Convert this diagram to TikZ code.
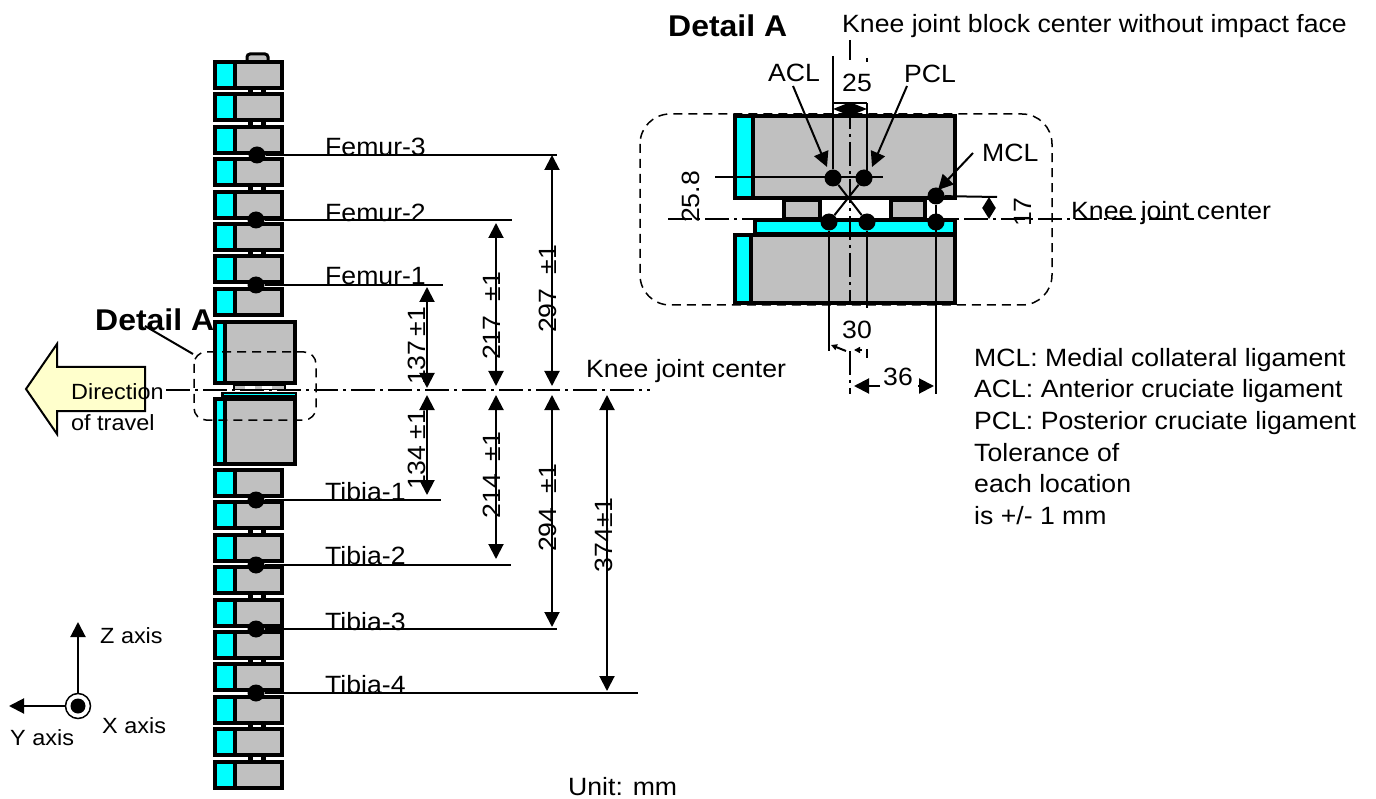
\documentclass[tikz,border=0pt]{standalone}
\usepackage{fontspec}
\setmainfont{Liberation Sans}[FakeStretch=1.065]
\usetikzlibrary{arrows.meta}

\definecolor{blockgrey}{RGB}{192,192,192}
\definecolor{arrowyellow}{RGB}{255,255,204}
\definecolor{blockcyan}{RGB}{0,255,255}

\tikzset{
    lbl/.style={inner sep=0pt, font=\fontsize{25}{30}\selectfont},
    axislbl/.style={inner sep=0pt, font=\fontsize{22}{26}\selectfont},
    titlelbl/.style={inner sep=0pt, font=\fontsize{30}{34}\selectfont\bfseries},
    blockline/.style={draw=black, line width=4pt},
    dashbox/.style={draw=black, line width=1.5pt, dash pattern=on 9pt off 6pt, rounded corners=30pt},
    centerline/.style={draw=black, line width=2pt, dash pattern=on 24pt off 5pt on 3pt off 5pt},
    thin line/.style={draw=black, line width=2pt},
    dimarrow/.style={thin line, {Triangle[length=15pt,width=15pt]}-{Triangle[length=15pt,width=15pt]}},
    leader/.style={thin line, -{Triangle[length=15pt,width=15pt]}},
    dot/.style={circle, fill=black, inner sep=0pt, minimum size=17pt}
}

\begin{document}
\begin{tikzpicture}[x=1pt, y=-1pt]
    \useasboundingbox (0, 0) rectangle (1376, 799);

    % travel arrow and the text under the blocks
    \draw[line width=2pt, fill=arrowyellow] (26, 389) -- (57, 344) -- (57, 367) -- (145, 367) -- (145, 411) -- (57, 411) -- (57, 434) -- cycle;
    \node[titlelbl, anchor=west] (detailleft) at (95, 320) {Detail A};

    % small blocks
    \foreach \y in {60, 92.4, 124.8, 157.2, 189.6, 222, 254.4, 286.8, 468, 500.4, 532.8, 565.2, 597.6, 630, 662.4, 694.8, 727.2, 759.6} {
        \draw[blockline, fill=blockgrey] (235, \y+2) rectangle (282, \y+28);
        \draw[blockline, fill=blockcyan] (215, \y+2) rectangle (235, \y+28);
    }
    \foreach \y in {90, 122.4, 187.2, 252, 530.4, 595.2, 660, 724.8, 757.2} {
        \fill (248, \y) rectangle (253, \y+3);
        \fill (261, \y) rectangle (266, \y+3);
    }
    \draw[line width=3pt, fill=blockgrey, rounded corners=3pt] (247, 60) -- (247, 54) -- (268, 54) -- (268, 60);

    % big blocks at the knee
    \draw[blockline, fill=blockgrey] (225, 322) rectangle (295, 383);
    \draw[blockline, fill=blockcyan] (215, 322) rectangle (225, 383);
    \fill (233, 385) rectangle (286, 390);
    \fill[white] (245, 386) rectangle (272, 389);
    \fill[blockgrey] (235, 386) rectangle (245, 389);
    \fill[blockgrey] (272, 386) rectangle (284, 389);
    \fill[blockgrey] (255, 386) rectangle (262, 389);
    \fill (221, 392) rectangle (297, 397);
    \fill[blockcyan] (224, 394) rectangle (295, 395.5);
    \draw[blockline, fill=blockgrey] (225, 399) rectangle (295, 464);
    \draw[blockline, fill=blockcyan] (215, 399) rectangle (225, 464);

    \node[dot] (f3) at (257, 155) {};
    \node[dot] (f2) at (256, 220) {};
    \node[dot] (f1) at (256, 285) {};
    \node[dot] (t1) at (256, 500) {};
    \node[dot] (t2) at (256, 565) {};
    \node[dot] (t3) at (256, 629) {};
    \node[dot] (t4) at (256, 693) {};

    \coordinate (f3end) at (557, 155);
    \coordinate (f2end) at (512, 220);
    \coordinate (f1end) at (443, 285);
    \coordinate (t1end) at (441, 500);
    \coordinate (t2end) at (511, 565);
    \coordinate (t3end) at (557, 629);
    \coordinate (t4end) at (638, 693);
    \draw[thin line] (f3) -- (f3end);
    \draw[thin line] (f2) -- (f2end);
    \draw[thin line] (f1) -- (f1end);
    \draw[thin line] (t1) -- (t1end);
    \draw[thin line] (t2) -- (t2end);
    \draw[thin line] (t3) -- (t3end);
    \draw[thin line] (t4) -- (t4end);

    \node[lbl, anchor=west] (f3lbl) at (325, 147) {Femur-3};
    \node[lbl, anchor=west] (f2lbl) at (325, 213) {Femur-2};
    \node[lbl, anchor=west] (f1lbl) at (325, 276) {Femur-1};
    \node[lbl, anchor=west] (t1lbl) at (325, 492) {Tibia-1};
    \node[lbl, anchor=west] (t2lbl) at (325, 556) {Tibia-2};
    \node[lbl, anchor=west] (t3lbl) at (325, 622) {Tibia-3};
    \node[lbl, anchor=west] (t4lbl) at (325, 685) {Tibia-4};

    % knee center line and its detail frame
    \coordinate (kneeleft) at (166, 390.5);
    \coordinate (kneeright) at (650, 390.5);
    \draw[centerline] (kneeleft) -- (kneeright);
    \draw[dashbox, rounded corners=12pt] (194, 352) rectangle (316, 420);
    \coordinate (frametop) at (193, 354);
    \coordinate (detailtail) at (145, 326);
    \draw[thin line] (detailtail) -- (frametop);
    \node[axislbl, anchor=west] (dirlbl) at (71, 392) {Direction};
    \node[axislbl, anchor=west] (travellbl) at (71, 423) {of travel};
    \node[lbl, anchor=west] (kneelbl) at (586, 371) {Knee joint center};

    % dimensions of the left view
    \coordinate (a1) at (427, 287);
    \coordinate (a2) at (427, 388);
    \coordinate (a3) at (427, 395);
    \coordinate (a4) at (427, 495);
    \coordinate (b1) at (496, 223);
    \coordinate (b2) at (496, 386);
    \coordinate (b3) at (496, 395);
    \coordinate (b4) at (496, 559);
    \coordinate (c1) at (552, 155);
    \coordinate (c2) at (552, 386);
    \coordinate (c3) at (552, 395);
    \coordinate (c4) at (552, 627);
    \coordinate (d1) at (607, 395);
    \coordinate (d2) at (607, 691);
    \draw[dimarrow] (a1) -- (a2);
    \draw[dimarrow] (a3) -- (a4);
    \draw[dimarrow] (b1) -- (b2);
    \draw[dimarrow] (b3) -- (b4);
    \draw[dimarrow] (c1) -- (c2);
    \draw[dimarrow] (c3) -- (c4);
    \draw[dimarrow] (d1) -- (d2);
    \node[lbl, rotate=90] (dima1) at (417, 346) {137\hspace{4pt}±1};
    \node[lbl, rotate=90] (dima2) at (417, 450) {134\hspace{6pt}±1};
    \node[lbl, rotate=90] (dimb1) at (492, 316) {217\hspace{14pt}±1};
    \node[lbl, rotate=90] (dimb2) at (492, 475) {214\hspace{13pt}±1};
    \node[lbl, rotate=90] (dimc1) at (548, 289) {297\hspace{14pt}±1};
    \node[lbl, rotate=90] (dimc2) at (548, 508) {294\hspace{14pt}±1};
    \node[lbl, rotate=90] (dimd1) at (604, 535) {374\hspace{1pt}±1};

    % axes
    \node[circle, draw=black, line width=1.5pt, fill=white, inner sep=0pt, minimum size=25pt] (xaxis) at (78, 706) {};
    \node[dot, minimum size=15pt] (xdot) at (78, 706) {};
    \coordinate (ztip) at (78, 622);
    \coordinate (ytip) at (9, 706);
    \draw[leader] (xaxis) -- (ztip);
    \draw[leader] (xaxis) -- (ytip);
    \node[axislbl, anchor=west] (zlbl) at (100, 636) {Z axis};
    \node[axislbl, anchor=west] (xlbl) at (102, 726) {X axis};
    \node[axislbl, anchor=west] (ylbl) at (10, 738) {Y axis};
    \node[lbl, anchor=west] (unitlbl) at (568, 787) {Unit: mm};

    % detail A
    \node[titlelbl, anchor=west] (detailtop) at (668, 26) {Detail A};
    \node[lbl, anchor=west] (blocklbl) at (842, 26) {Knee joint block center without impact face};
    \draw[blockline, fill=blockgrey] (753, 116) rectangle (955, 198);
    \draw[blockline, fill=blockcyan] (735, 116) rectangle (753, 198);
    \draw[blockline, fill=blockgrey] (784, 200) rectangle (820, 219);
    \draw[blockline, fill=blockgrey] (891, 200) rectangle (925, 219);
    \draw[blockline, fill=blockcyan] (755, 220) rectangle (955, 234);
    \draw[blockline, fill=blockgrey] (751, 235) rectangle (955, 303);
    \draw[blockline, fill=blockcyan] (735, 235) rectangle (751, 303);
    \draw[dashbox] (640, 114) rectangle (1052, 305);

    \coordinate (blocktop) at (850, 40);
    \coordinate (blocktopend) at (850, 60);
    \coordinate (blockmid) at (850, 105);
    \coordinate (blockmidend) at (850, 305);
    \coordinate (blocklow) at (850, 351);
    \coordinate (blockbot) at (850, 394);
    \coordinate (jointleft) at (668, 219);
    \coordinate (jointright) at (1194, 219);
    \draw[centerline] (blocktop) -- (blocktopend);
    \draw[centerline] (blockmid) -- (blockmidend);
    \draw[centerline] (blocklow) -- (blockbot);
    \draw[centerline] (jointleft) -- (jointright);

    \node[dot] (aclup) at (833, 178) {};
    \node[dot] (pclup) at (864, 178) {};
    \node[dot] (mclup) at (936, 196) {};
    \node[dot] (acllow) at (829, 222) {};
    \node[dot] (pcllow) at (867, 222) {};
    \node[dot] (mcllow) at (936, 222) {};
    \draw[thin line] (aclup) -- (pcllow);
    \draw[thin line] (pclup) -- (acllow);

    \coordinate (aclline) at (833, 56);
    \coordinate (pclline) at (867, 103);
    \coordinate (aclbot) at (829, 351);
    \coordinate (pclbot) at (867, 308);
    \coordinate (mclbot) at (936, 394);
    \coordinate (hleft) at (715, 177);
    \coordinate (hright) at (883, 177);
    \coordinate (mclright) at (997, 197);
    \draw[thin line] (aclline) -- (aclup);
    \draw[thin line] (pclline) -- (pclline |- pclup);
    \draw[thin line] (acllow) -- (aclbot);
    \draw[thin line] (pcllow) -- (pclbot);
    \draw[thin line] (mclup) -- (mclbot);
    \draw[thin line] (hleft) -- (hright);
    \draw[thin line] (mclup) -- (mclright);
    \coordinate (pclstub1) at (867, 58);
    \coordinate (pclstub2) at (867, 62);
    \coordinate (pclstub3) at (867, 349);
    \coordinate (pclstub4) at (867, 358);
    \draw[thin line] (pclstub1) -- (pclstub2);
    \draw[thin line] (pclstub3) -- (pclstub4);

    % dimensions of detail A
    \coordinate (d25a) at (833, 109);
    \coordinate (d25b) at (867, 109);
    \coordinate (d25top) at (833, 103);
    \coordinate (d25topb) at (867, 103);
    \coordinate (d30a) at (831, 345);
    \coordinate (d30tail) at (846, 351);
    \coordinate (d30b) at (854, 350);
    \coordinate (d30tailb) at (862, 350);
    \coordinate (d36a) at (854, 386);
    \coordinate (d36tail) at (880, 386);
    \coordinate (d36b) at (934, 386);
    \coordinate (d36tailb) at (918, 386);
    \coordinate (d17a) at (989, 197);
    \coordinate (d17b) at (989, 219);
    \draw[thin line] (d25top) -- (d25topb);
    \draw[thin line, {Triangle[length=17pt,width=13pt]}-{Triangle[length=17pt,width=13pt]}] (d25a) -- (d25b);
    \draw[thin line, -{Triangle[length=6pt,width=6pt]}] (d30tail) -- (d30a);
    \draw[thin line, -{Triangle[length=6pt,width=6pt]}] (d30tailb) -- (d30b);
    \draw[leader] (d36tail) -- (d36a);
    \draw[leader] (d36tailb) -- (d36b);
    \draw[thin line, {Triangle[length=11pt,width=13pt]}-{Triangle[length=11pt,width=13pt]}] (d17a) -- (d17b);
    \node[lbl] (lbl36) at (898, 377) {36};
    \node[lbl] (lbl25) at (857, 83) {25};
    \node[lbl] (lbl30) at (857, 330) {30};
    \node[lbl, rotate=90] (lbl258) at (691, 197) {25.8};
    \node[lbl, rotate=90] (lbl17) at (1023, 212) {17};

    \node[lbl, anchor=west] (acllbl) at (768, 73) {ACL};
    \node[lbl, anchor=west] (pcllbl) at (904, 74) {PCL};
    \node[lbl, anchor=west] (mcllbl) at (982, 153) {MCL};
    \coordinate (acltail) at (793, 86);
    \coordinate (acltip) at (827, 167);
    \coordinate (pcltail) at (907, 86);
    \coordinate (pcltip) at (872, 167);
    \coordinate (mcltail) at (973, 153);
    \coordinate (mcltip) at (938, 190);
    \draw[leader] (acltail) -- (acltip);
    \draw[leader] (pcltail) -- (pcltip);
    \draw[leader] (mcltail) -- (mcltip);
    \node[lbl, anchor=west] (jointlbl) at (1071, 213) {Knee joint center};

    \node[lbl, anchor=north west, align=left, font=\fontsize{25}{31.6}\selectfont] (notes) at (974, 348) {MCL: Medial collateral ligament\\ACL: Anterior cruciate ligament\\PCL: Posterior cruciate ligament\\Tolerance of\\each location\\is +/- 1 mm};
\end{tikzpicture}
\end{document}
